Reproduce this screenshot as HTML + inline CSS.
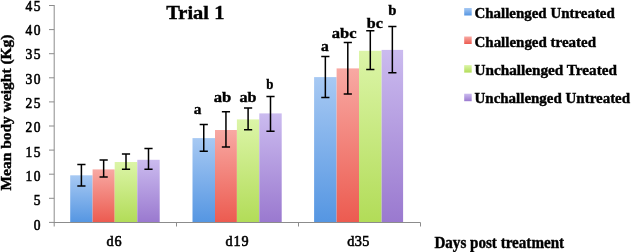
<!DOCTYPE html>
<html><head><meta charset="utf-8"><style>
html,body{margin:0;padding:0;background:#fff;}
body{width:632px;height:252px;overflow:hidden;}
svg{display:block;will-change:transform;}
text{font-family:"Liberation Serif",serif;font-weight:bold;fill:#000;stroke:#000;stroke-width:0.4px;}
.n{font-weight:normal;stroke:#000;stroke-width:0.6px;}
</style></head><body>
<svg width="632" height="252" viewBox="0 0 632 252">
<defs>
<linearGradient id="gb" x1="0" y1="0" x2="0" y2="1"><stop offset="0" stop-color="#a7c9f3"/><stop offset="1" stop-color="#5596e2"/></linearGradient>
<linearGradient id="gr" x1="0" y1="0" x2="0" y2="1"><stop offset="0" stop-color="#f8a9a3"/><stop offset="1" stop-color="#ec5b50"/></linearGradient>
<linearGradient id="gg" x1="0" y1="0" x2="0" y2="1"><stop offset="0" stop-color="#dcf5a8"/><stop offset="1" stop-color="#b2dc58"/></linearGradient>
<linearGradient id="gp" x1="0" y1="0" x2="0" y2="1"><stop offset="0" stop-color="#cbbbef"/><stop offset="1" stop-color="#9a79cf"/></linearGradient>
</defs>
<rect x="70.20" y="175.30" width="22.40" height="47.00" fill="url(#gb)"/>
<rect x="92.60" y="169.40" width="22.10" height="52.90" fill="url(#gr)"/>
<rect x="114.70" y="162.00" width="22.60" height="60.30" fill="url(#gg)"/>
<rect x="137.30" y="159.80" width="22.40" height="62.50" fill="url(#gp)"/>
<rect x="192.50" y="138.10" width="22.50" height="84.20" fill="url(#gb)"/>
<rect x="215.00" y="130.00" width="21.90" height="92.30" fill="url(#gr)"/>
<rect x="236.90" y="119.40" width="22.40" height="102.90" fill="url(#gg)"/>
<rect x="259.30" y="113.40" width="22.40" height="108.90" fill="url(#gp)"/>
<rect x="314.10" y="77.10" width="22.50" height="145.20" fill="url(#gb)"/>
<rect x="336.60" y="68.40" width="22.40" height="153.90" fill="url(#gr)"/>
<rect x="359.00" y="50.80" width="22.60" height="171.50" fill="url(#gg)"/>
<rect x="381.60" y="49.90" width="21.50" height="172.40" fill="url(#gp)"/>
<g stroke="#8c8c8c" stroke-width="1" fill="none">
<path d="M54.2 5 V226.5"/>
<path d="M53.7 222.5 H420.5 V226.5"/>
<path d="M49 222.4 H54.2"/>
<path d="M49 198.3 H54.2"/>
<path d="M49 174.2 H54.2"/>
<path d="M49 150.1 H54.2"/>
<path d="M49 126.0 H54.2"/>
<path d="M49 101.9 H54.2"/>
<path d="M49 77.8 H54.2"/>
<path d="M49 53.7 H54.2"/>
<path d="M49 29.6 H54.2"/>
<path d="M49 5.5 H54.2"/>
<path d="M176.5 222 V226.5"/>
<path d="M298.5 222 V226.5"/>
</g>
<g stroke="#000" stroke-width="1.5" fill="none">
<path d="M81.40 164.40 V186.00 M77.30 164.40 H85.50 M77.30 186.00 H85.50"/>
<path d="M103.65 160.00 V177.10 M99.55 160.00 H107.75 M99.55 177.10 H107.75"/>
<path d="M126.00 154.10 V169.20 M121.90 154.10 H130.10 M121.90 169.20 H130.10"/>
<path d="M148.50 148.50 V169.20 M144.40 148.50 H152.60 M144.40 169.20 H152.60"/>
<path d="M203.75 124.50 V151.20 M199.65 124.50 H207.85 M199.65 151.20 H207.85"/>
<path d="M225.95 111.80 V146.90 M221.85 111.80 H230.05 M221.85 146.90 H230.05"/>
<path d="M248.10 108.10 V129.80 M244.00 108.10 H252.20 M244.00 129.80 H252.20"/>
<path d="M270.50 96.50 V131.20 M266.40 96.50 H274.60 M266.40 131.20 H274.60"/>
<path d="M325.35 56.60 V97.50 M321.25 56.60 H329.45 M321.25 97.50 H329.45"/>
<path d="M347.80 42.50 V94.00 M343.70 42.50 H351.90 M343.70 94.00 H351.90"/>
<path d="M370.30 30.80 V69.60 M366.20 30.80 H374.40 M366.20 69.60 H374.40"/>
<path d="M392.35 26.40 V72.70 M388.25 26.40 H396.45 M388.25 72.70 H396.45"/>
</g>
<text class="n" transform="scale(0.9,1)" x="45.11" y="229.6" font-size="15" text-anchor="end">0</text>
<text class="n" transform="scale(0.9,1)" x="45.11" y="205.3" font-size="15" text-anchor="end">5</text>
<text class="n" transform="scale(0.9,1)" x="45.11" y="180.9" font-size="15" text-anchor="end" textLength="16.78" lengthAdjust="spacing">10</text>
<text class="n" transform="scale(0.9,1)" x="45.11" y="156.6" font-size="15" text-anchor="end" textLength="16.78" lengthAdjust="spacing">15</text>
<text class="n" transform="scale(0.9,1)" x="45.11" y="132.3" font-size="15" text-anchor="end" textLength="16.78" lengthAdjust="spacing">20</text>
<text class="n" transform="scale(0.9,1)" x="45.11" y="108.0" font-size="15" text-anchor="end" textLength="16.78" lengthAdjust="spacing">25</text>
<text class="n" transform="scale(0.9,1)" x="45.11" y="83.6" font-size="15" text-anchor="end" textLength="16.78" lengthAdjust="spacing">30</text>
<text class="n" transform="scale(0.9,1)" x="45.11" y="59.3" font-size="15" text-anchor="end" textLength="16.78" lengthAdjust="spacing">35</text>
<text class="n" transform="scale(0.9,1)" x="45.11" y="35.0" font-size="15" text-anchor="end" textLength="16.78" lengthAdjust="spacing">40</text>
<text class="n" transform="scale(0.9,1)" x="45.11" y="10.6" font-size="15" text-anchor="end" textLength="16.78" lengthAdjust="spacing">45</text>
<text x="166.2" y="18.6" font-size="19.8" textLength="58.2" lengthAdjust="spacingAndGlyphs">Trial 1</text>
<text transform="translate(11,190.5) rotate(-90)" x="0" y="0" font-size="14.2" textLength="156" lengthAdjust="spacingAndGlyphs">Mean body weight (Kg)</text>
<text class="n" transform="scale(0.96,1)" x="110.83" y="246.1" font-size="14.8" textLength="15.94" lengthAdjust="spacing">d6</text>
<text class="n" transform="scale(0.96,1)" x="234.90" y="246.1" font-size="14.8" textLength="24.17" lengthAdjust="spacing">d19</text>
<text class="n" transform="scale(0.96,1)" x="361.67" y="246.1" font-size="14.8" textLength="23.12" lengthAdjust="spacing">d35</text>
<text x="434.4" y="248.4" font-size="15.8" textLength="129.7" lengthAdjust="spacingAndGlyphs">Days post treatment</text>
<text x="193.7" y="114.0" font-size="15.2" textLength="7.6" lengthAdjust="spacingAndGlyphs">a</text>
<text x="213.7" y="101.5" font-size="15.2" textLength="17.5" lengthAdjust="spacingAndGlyphs">ab</text>
<text x="239.4" y="101.5" font-size="15.2" textLength="17.0" lengthAdjust="spacingAndGlyphs">ab</text>
<text x="266.3" y="89.0" font-size="15.2" textLength="7.2" lengthAdjust="spacingAndGlyphs">b</text>
<text x="321.1" y="51.0" font-size="15.2" textLength="7.8" lengthAdjust="spacingAndGlyphs">a</text>
<text x="331.7" y="38.1" font-size="15.2" textLength="24.8" lengthAdjust="spacingAndGlyphs">abc</text>
<text x="366.8" y="27.8" font-size="15.2" textLength="16.1" lengthAdjust="spacingAndGlyphs">bc</text>
<text x="388.3" y="14.7" font-size="15.2" textLength="8.2" lengthAdjust="spacingAndGlyphs">b</text>
<rect x="464.2" y="8.0" width="7.5" height="7.5" fill="url(#gb)"/>
<text x="474.5" y="18.3" font-size="14.3" textLength="140.3" lengthAdjust="spacingAndGlyphs">Challenged Untreated</text>
<rect x="464.2" y="36.5" width="7.5" height="7.5" fill="url(#gr)"/>
<text x="474.5" y="46.5" font-size="14.3" textLength="121.5" lengthAdjust="spacingAndGlyphs">Challenged treated</text>
<rect x="464.2" y="65.1" width="7.5" height="7.5" fill="url(#gg)"/>
<text x="474.5" y="74.7" font-size="14.3" textLength="142.5" lengthAdjust="spacingAndGlyphs">Unchallenged Treated</text>
<rect x="464.2" y="93.7" width="7.5" height="7.5" fill="url(#gp)"/>
<text x="474.5" y="102.9" font-size="14.3" textLength="155.6" lengthAdjust="spacingAndGlyphs">Unchallenged Untreated</text>
</svg></body></html>
